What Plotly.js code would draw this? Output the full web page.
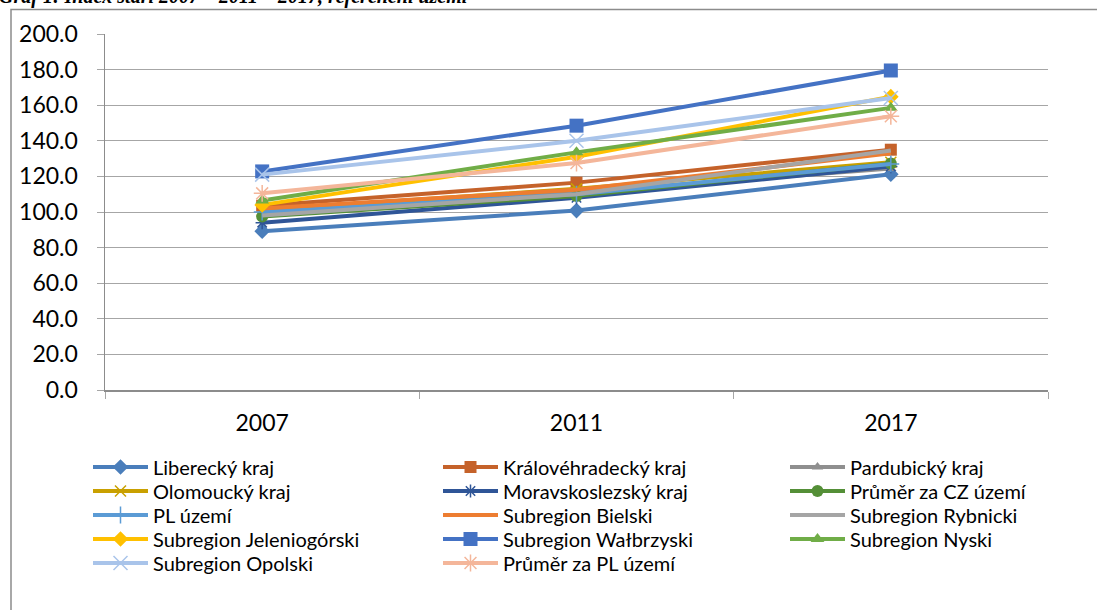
<!DOCTYPE html>
<html><head><meta charset="utf-8">
<script src="https://cdn.plot.ly/plotly-3.0.1.min.js"></script>
<style>html,body{margin:0;padding:0;background:#fff;}#chart{width:1097px;height:610px;}</style>
</head><body><div id="chart"></div>
<script>
const years = ["2007", "2011", "2017"];
const seriesNames = ["Liberecký kraj","Královéhradecký kraj","Pardubický kraj","Olomoucký kraj","Moravskoslezský kraj","Průměr za CZ území","PL území","Subregion Bielski","Subregion Rybnicki","Subregion Jeleniogórski","Subregion Wałbrzyski","Subregion Nyski","Subregion Opolski","Průměr za PL území"];
const liberecky = [89.2, 100.8, 121.2];
const kralovehradecky = [103.5, 116.5, 135.0];
const pardubicky = [99.0, 111.0, 124.5];
const olomoucky = [101.0, 113.0, 128.0];
const moravskoslezsky = [94.0, 108.0, 125.5];
const prumerCZ = [97.5, 109.0, 127.3];
const plUzemi = [100.0, 110.0, 127.0];
const bielski = [102.0, 112.5, 133.0];
const rybnicki = [98.0, 110.0, 134.5];
const jeleniogorski = [104.0, 131.0, 164.8];
const walbrzyski = [122.8, 148.5, 179.5];
const nyski = [106.5, 133.5, 158.5];
const opolski = [121.0, 140.0, 164.0];
const prumerPL = [110.5, 127.5, 153.8];
const values = [liberecky,kralovehradecky,pardubicky,olomoucky,moravskoslezsky,prumerCZ,plUzemi,bielski,rybnicki,jeleniogorski,walbrzyski,nyski,opolski,prumerPL];
const yTicks = [0,20,40,60,80,100,120,140,160,180,200];

const styles = [
  {c:"#4A7EBB", s:"diamond", z:12},
  {c:"#C5622A", s:"square", z:12},
  {c:"#8F8F8F", s:"triangle-up", z:10},
  {c:"#C9A000", s:"x-thin", z:11},
  {c:"#2F5597", s:"asterisk-open", z:11},
  {c:"#548F37", s:"circle", z:12},
  {c:"#5B9BD5", s:"cross-thin", z:12},
  {c:"#ED7D31", s:null, z:0},
  {c:"#A5A5A5", s:null, z:0},
  {c:"#FFC000", s:"diamond", z:12},
  {c:"#4472C4", s:"square", z:14},
  {c:"#70AD47", s:"triangle-up", z:12},
  {c:"#A9C4EA", s:"x-thin", z:14},
  {c:"#F4B69A", s:"asterisk-open", z:14}
];

// plot area in pixels: x 105..1048, y 34..390
const PL = 105, PW = 943, PB = 390, PH = 356;
const colX = [88, 438, 785];
const rowY = [467, 491, 515, 539, 563];

const traces = seriesNames.map((n,i)=>{
  const st = styles[i];
  const t = {type:"scatter", x:years, y:values[i], name:n,
    legend: i === 0 ? "legend" : "legend" + (i+1),
    mode: st.s ? "lines+markers" : "lines",
    line:{color:st.c, width:4}, cliponaxis:false};
  if (st.s) t.marker = {symbol:st.s, size:st.z, color:st.c, line:{color:st.c, width:(st.s.indexOf("thin")>=0||st.s.indexOf("open")>=0)?1.5:0}};
  return t;
});

const layout = {
  width:1097, height:610,
  margin:{l:105, r:49, t:34, b:220, autoexpand:false},
  paper_bgcolor:"#fff", plot_bgcolor:"#fff",
  font:{family:"Lato, 'Open Sans', sans-serif", color:"#000"},
  showlegend:true,
  xaxis:{type:"category", range:[-0.5,2.5], tickson:"boundaries", ticks:"outside", ticklen:7,
    tickcolor:"#A6A6A6", showline:true, linecolor:"#8C8C8C", linewidth:1.5, showgrid:false,
    tickfont:{size:23, color:"#000"}, ticklabelstandoff:12, fixedrange:true},
  yaxis:{range:[0,200], tickvals:yTicks, ticktext:yTicks.map(v=>v.toFixed(1)), ticks:"outside", ticklen:7,
    tickcolor:"#A6A6A6", showline:true, linecolor:"#8C8C8C", linewidth:1.5, showgrid:true,
    gridcolor:"#A6A6A6", gridwidth:1, zeroline:false, tickfont:{size:23, color:"#000"},
    ticklabelstandoff:14, fixedrange:true},
  shapes:[{type:"rect", xref:"paper", yref:"paper", x0:(11-PL)/PW, x1:(1105-PL)/PW, y0:(PB-620)/PH, y1:(PB-9.5)/PH,
    line:{color:"#8C8C8C", width:1.5}, fillcolor:"rgba(0,0,0,0)", layer:"below"}],
  annotations:[{text:"<b><i>Graf 1: Index stáří 2007 – 2011 – 2017, referenční území</i></b>", xref:"paper", yref:"paper",
    x:(-3-PL)/PW, xanchor:"left", y:(PB-10)/PH, yanchor:"bottom", showarrow:false,
    font:{family:"'Liberation Serif', 'DejaVu Serif', serif", size:20, color:"#000"}}]
};
seriesNames.forEach((n,i)=>{
  const key = i === 0 ? "legend" : "legend" + (i+1);
  const row = Math.floor(i/3), col = i % 3;
  layout[key] = {x:(colX[col]-PL)/PW, xanchor:"left", y:(PB-rowY[row])/PH, yanchor:"middle",
    orientation:"v", itemwidth:55, bgcolor:"rgba(0,0,0,0)",
    font:{size:20, family:"Lato, sans-serif", color:"#000"}};
});
Plotly.newPlot("chart", traces, layout, {displayModeBar:false, staticPlot:true});
</script></body></html>
